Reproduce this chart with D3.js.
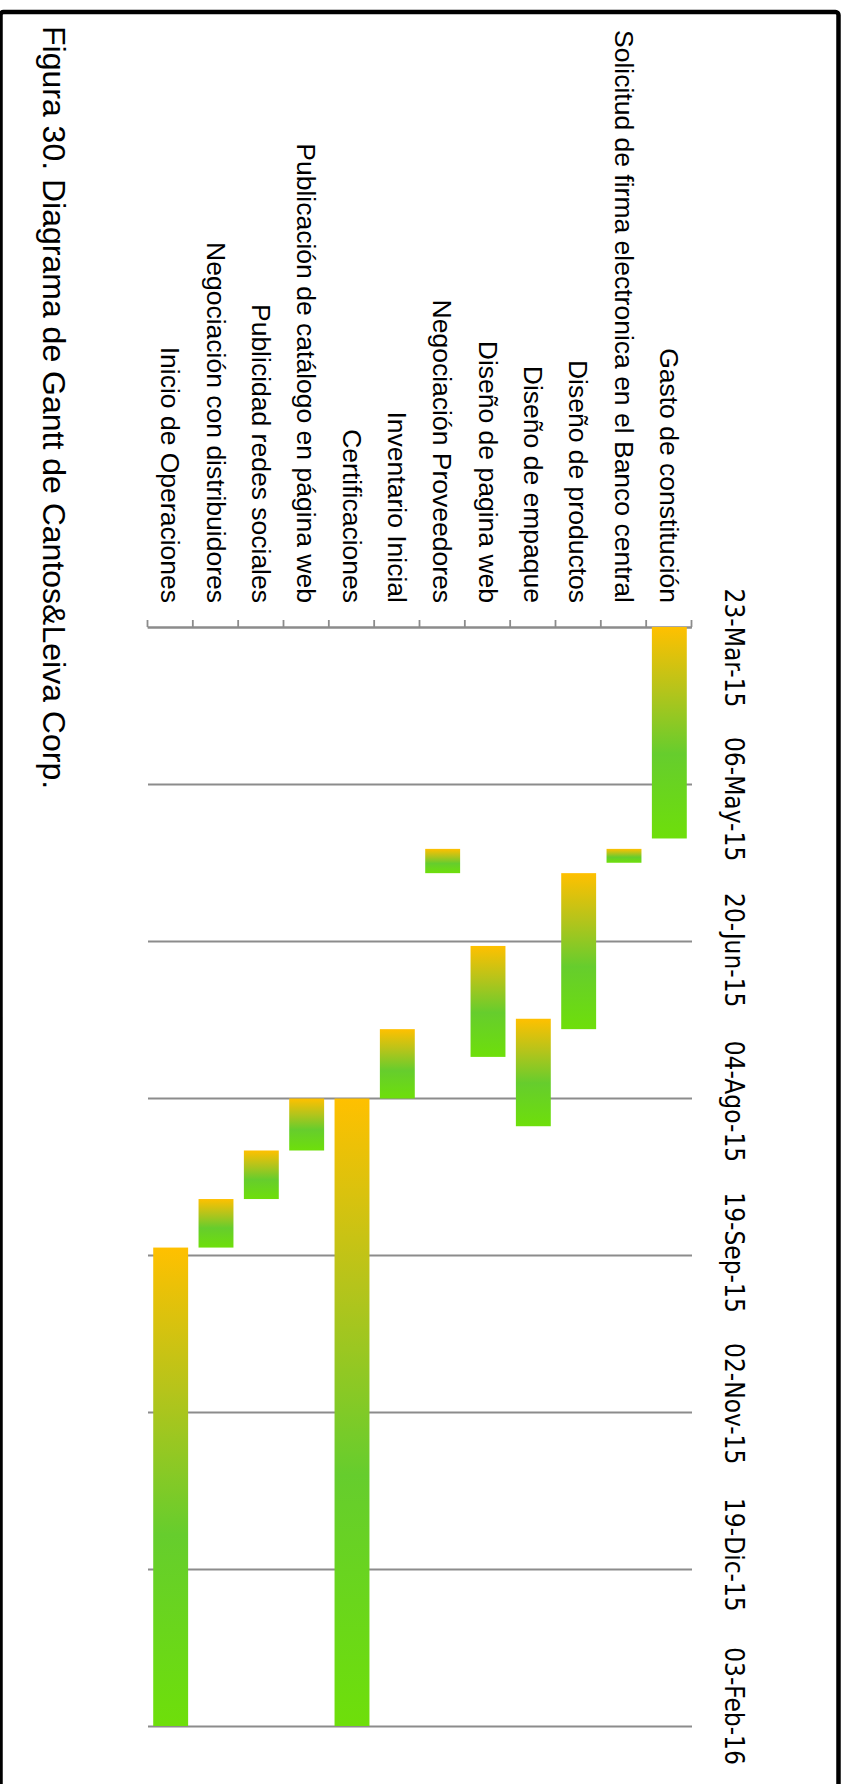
<!DOCTYPE html>
<html>
<head>
<meta charset="utf-8">
<script src="https://cdn.jsdelivr.net/npm/d3@7"></script>
<style>
  body { margin: 0; background: #fff; }
  svg { display: block; }
</style>
</head>
<body>
<div id="chart"></div>
<script>
// task names, top to bottom in the unrotated chart
var tasks = ["Gasto de constitución",
  "Solicitud de firma electronica en el Banco central",
  "Diseño de productos",
  "Diseño de empaque",
  "Diseño de pagina web",
  "Negociación Proveedores",
  "Inventario Inicial",
  "Certificaciones",
  "Publicación de catálogo en página web",
  "Publicidad redes sociales",
  "Negociación con distribuidores",
  "Inicio de Operaciones"];
var startDates = ["2015-03-23", "2015-05-26", "2015-06-02", "2015-07-14", "2015-06-23", "2015-05-26",
  "2015-07-17", "2015-08-06", "2015-08-06", "2015-08-21", "2015-09-04", "2015-09-18"];
var endDates = ["2015-05-23", "2015-05-30", "2015-07-17", "2015-08-14", "2015-07-25", "2015-06-02",
  "2015-08-06", "2016-02-03", "2015-08-21", "2015-09-04", "2015-09-18", "2016-02-03"];
var axisMin = "2015-03-23", axisMax = "2016-02-03";
var tickLabels = ["23-Mar-15", "06-May-15", "20-Jun-15", "04-Ago-15", "19-Sep-15", "02-Nov-15", "19-Dic-15", "03-Feb-16"];
var title = "Figura 30. Diagrama de Gantt de Cantos&Leiva Corp.";

var W = 845, H = 1784;
var parse = d3.utcParse("%Y-%m-%d");
var data = tasks.map(function(t, i) {
  return {task: t, start: parse(startDates[i]), end: parse(endDates[i])};
});

var svg = d3.select("#chart").append("svg")
    .attr("width", W)
    .attr("height", H);

svg.append("rect")
  .attr("x", 0.5).attr("y", 12)
  .attr("width", 838).attr("height", 1800)
  .attr("rx", 3)
  .attr("fill", "none")
  .attr("stroke", "#000")
  .attr("stroke-width", 4.5);

// gradient gold -> green along each bar
var grad = svg.append("defs").append("linearGradient").attr("id", "barGrad");
grad.selectAll("stop")
  .data([[0, "#FFC000"], [0.3, "#B5C41B"], [0.6, "#66CD2D"], [1, "#6EDF0A"]])
  .enter().append("stop")
  .attr("offset", function(d) { return d[0]; })
  .attr("stop-color", function(d) { return d[1]; });

// the chart is drawn as a normal gantt and then turned 90 degrees
var g = svg.append("g")
    .attr("transform", "translate(" + W + ",0) rotate(90)");

var x = d3.scaleUtc()
  .domain([parse(axisMin), parse(axisMax)])
  .range([627, 1726]);
var tickPos = d3.scalePoint().domain(tickLabels).range(x.range());
var labelPos = d3.scalePoint().domain(tickLabels).range([648, 1706]);

var y = d3.scaleBand()
  .domain(tasks)
  .range([153, 697])
  .paddingInner(0.23)
  .paddingOuter(0.115);
var yLin = d3.scaleLinear().domain([0, tasks.length]).range(y.range());

// gridlines
var grid = g.append("g")
  .attr("transform", "translate(0,153)")
  .call(d3.axisTop(tickPos).tickSize(-(697 - 153)).tickFormat(""));
grid.select(".domain").remove();
grid.selectAll("line").attr("stroke", "#8c8c8c").attr("stroke-width", 1.8);

// category axis with ticks between tasks
var catAxis = g.append("g")
  .attr("transform", "translate(627,0)")
  .call(d3.axisLeft(yLin).tickValues(d3.range(tasks.length + 1)).tickSize(7).tickSizeOuter(0).tickFormat(""));
catAxis.selectAll("line, path").attr("stroke", "#8c8c8c").attr("stroke-width", 1.8);

// bars
g.selectAll(".bar")
  .data(data)
  .enter().append("rect")
  .attr("class", "bar")
  .attr("x", function(d) { return x(d.start); })
  .attr("y", function(d) { return y(d.task); })
  .attr("width", function(d) { return x(d.end) - x(d.start); })
  .attr("height", y.bandwidth())
  .attr("fill", "url(#barGrad)");

// task labels
g.selectAll(".task")
  .data(tasks)
  .enter().append("text")
  .attr("class", "task")
  .attr("x", 603)
  .attr("y", function(d) { return y(d) + y.bandwidth() / 2; })
  .attr("dy", "0.35em")
  .attr("text-anchor", "end")
  .style("font-family", "'Liberation Sans', Arial, sans-serif")
  .style("font-size", "26.5px")
  .text(function(d) { return d; });

// date labels
g.selectAll(".date")
  .data(tickLabels)
  .enter().append("text")
  .attr("class", "date")
  .attr("x", function(d) { return labelPos(d); })
  .attr("y", 120)
  .attr("text-anchor", "middle")
  .style("font-family", "'DejaVu Sans Condensed', 'DejaVu Sans', sans-serif")
  .style("font-stretch", "condensed")
  .style("font-size", "26px")
  .text(function(d) { return d; });

g.append("text")
  .attr("x", 26)
  .attr("y", 802)
  .style("font-family", "'Liberation Sans', Arial, sans-serif")
  .style("font-size", "32px")
  .text(title);
</script>
</body>
</html>
